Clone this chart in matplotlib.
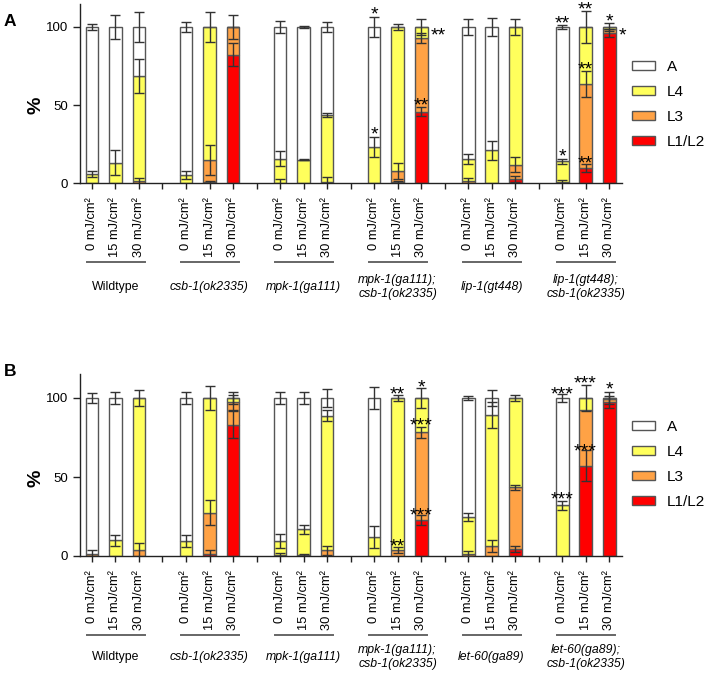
import matplotlib
matplotlib.use('Agg')
import matplotlib.pyplot as plt
from matplotlib.patches import Patch
from matplotlib.transforms import blended_transform_factory

plt.rcParams['font.family'] = ['Liberation Sans', 'DejaVu Sans']

# ---------------- data ----------------
doses = ["0 mJ/cm²", "15 mJ/cm²", "30 mJ/cm²"]
stages = ["A", "L4", "L3", "L1/L2"]

groups_A = ["Wildtype", "csb-1(ok2335)", "mpk-1(ga111)",
            "mpk-1(ga111);\ncsb-1(ok2335)", "lip-1(gt448)",
            "lip-1(gt448);\ncsb-1(ok2335)"]
groups_B = ["Wildtype", "csb-1(ok2335)", "mpk-1(ga111)",
            "mpk-1(ga111);\ncsb-1(ok2335)", "let-60(ga89)",
            "let-60(ga89);\ncsb-1(ok2335)"]

# Panel A: percentages of each stage per bar (6 groups x 3 doses)
A_L12 = [0, 0, 0, 0, 0.5, 82.3, 0.3, 0, 0, 0, 0.5, 45.7, 0, 0, 2.6, 0, 9.6, 96]
A_L3 = [0, 0, 1.5, 0, 14.5, 17.7, 0, 0, 0.6, 0, 7.2, 47.3, 1, 0, 9.2, 0.6, 53.9, 2.7]
A_L4 = [6, 13, 67.1, 5, 85, 0, 15.1, 15, 43, 23.3, 92.3, 7, 14.4, 21, 88.2, 13.4, 36.5, 1.3]
A_err_A = [1.7, 8, 9.4, 3, 0, 0, 3.8, 0.5, 3.2, 6.4, 0, 0, 5, 5.6, 5, 1.3, 0, 0]
A_err_L4 = [2, 8, 10.7, 2.5, 9.6, 0, 4.8, 0.5, 1, 6.4, 2, 5, 3.4, 6, 5, 1.7, 10, 2.7]
A_err_L3 = [0, 0, 2, 0, 9.6, 7.7, 0, 0, 3, 0, 5, 3.2, 2, 0, 5, 1.5, 8.4, 0]
A_err_L12 = [0, 0, 0, 0, 1, 7.5, 2, 0, 0, 0, 1, 3, 0, 0, 2, 0, 2.5, 2.7]

# Panel B
B_L12 = [0, 0, 0, 0, 1.5, 83, 0.4, 0, 0, 0, 0, 22.7, 0, 0, 4.4, 0, 57, 97.5]
B_L3 = [1.5, 0, 4, 0, 26, 14.2, 0, 0.5, 3.6, 0, 3.6, 55.7, 1.5, 6.6, 39, 0, 35.6, 2.1]
B_L4 = [0, 10, 96, 9.3, 72.5, 2.8, 9.3, 16.5, 85.2, 11.9, 96.4, 21.6, 22.9, 82.6, 56.6, 32, 7.4, 0.4]
B_err_A = [3.4, 3.6, 0, 3.7, 0, 0, 3.6, 3.6, 5.7, 6.9, 0, 0, 1.3, 5, 0, 2.5, 0, 0]
B_err_L4 = [0, 3.4, 5, 3.7, 7.8, 4, 4.5, 2.8, 3.4, 6.9, 2, 6.4, 2.5, 8.5, 1.6, 3, 8, 3.5]
B_err_L3 = [2.3, 0, 4.5, 0, 8.1, 5, 0, 1, 3, 0, 2, 3.4, 1.5, 3.8, 1.4, 0, 0, 0]
B_err_L12 = [0, 0, 0, 0, 2, 8.5, 1.5, 0, 0, 0, 0, 3.2, 0, 0, 2, 0, 9.8, 4]

# significance marks: (bar index, y value, text, dx)
A_stars = [(9, 110, "*", 0), (9, 33, "*", 0), (11, 96.6, "**", 0.72), (11, 52, "**", 0),
           (15, 104.7, "**", 0), (15, 19, "*", 0), (16, 113.7, "**", 0),
           (16, 74.8, "**", 0), (16, 14.5, "**", 0), (17, 106, "*", 0), (17, 97, "*", 0.55)]
B_stars = [(10, 104.2, "**", 0), (10, 8.5, "**", 0), (11, 109, "*", 0),
           (11, 84.7, "***", 0), (11, 28, "***", 0), (15, 104.7, "***", 0),
           (15, 38, "***", 0), (16, 111.6, "***", 0), (16, 68.4, "***", 0),
           (17, 107.8, "*", 0)]

colors = {"A": "#FFFFFF", "L4": "#FFFF5C", "L3": "#FFA245", "L1/L2": "#FF0000"}
edge = "#555555"
ecol = "#333333"

W, H = 708, 674
fig = plt.figure(figsize=(W / 100, H / 100), dpi=100)


def positions():
    return [g * 4 + i for g in range(6) for i in range(3)]


def draw(ax, l12, l3, l4, eA, e4, e3, e12, groups, stars, ax_h_px, label_off):
    x = positions()
    a = [100 - (p + q + r) for p, q, r in zip(l12, l3, l4)]
    bottom = [0] * 18
    segs = [("L1/L2", l12, e12), ("L3", l3, e3), ("L4", l4, e4), ("A", a, eA)]
    for name, vals, errs in segs:
        ax.bar(x, vals, bottom=bottom, width=0.55, color=colors[name],
               edgecolor=edge, linewidth=1, zorder=2)
        tops = [b + v for b, v in zip(bottom, vals)]
        for xi, t, v, e in zip(x, tops, vals, errs):
            if v > 0 and e > 0:
                ax.errorbar(xi, t, yerr=e, fmt='none', ecolor=ecol,
                            elinewidth=1, capsize=3.5, capthick=1, zorder=3)
        bottom = tops

    ax.set_xlim(-0.51, 22.55)
    ax.set_ylim(0, 115)
    ax.set_yticks([0, 50, 100])
    ax.tick_params(axis='y', labelsize=9.5, length=5, width=1, color='#222')
    all_ticks = list(range(23))
    ax.set_xticks(all_ticks)
    labels = []
    for t in all_ticks:
        labels.append(doses[t % 4] if t % 4 < 3 else "")
    ax.set_xticklabels(labels, rotation=90, fontsize=9.3)
    ax.tick_params(axis='x', length=4, width=1, color='#222', pad=6)
    for s in ['top', 'right']:
        ax.spines[s].set_visible(False)
    for s in ['left', 'bottom']:
        ax.spines[s].set_color('#222')
        ax.spines[s].set_linewidth(1)

    tr = blended_transform_factory(ax.transData, ax.transAxes)
    yl = -79 / ax_h_px
    yt = -label_off / ax_h_px
    for g, name in enumerate(groups):
        ax.plot([g * 4 - 0.22, g * 4 + 2.26], [yl, yl], transform=tr,
                clip_on=False, color='#666666', lw=1.4)
        style = 'normal' if name == "Wildtype" else 'italic'
        ax.text(g * 4 + 1, yt, name, transform=tr, ha='center', va='center',
                fontsize=8.8, style=style, linespacing=1.3)

    for idx, yv, txt, dx in stars:
        ax.text(x[idx] + dx, yv - 2.5, txt, ha='center', va='center',
                fontsize=14, color='black', zorder=5)


axA = fig.add_axes([80 / W, 1 - 183 / H, 542 / W, 179.4 / H])
draw(axA, A_L12, A_L3, A_L4, A_err_A, A_err_L4, A_err_L3, A_err_L12,
     groups_A, A_stars, 179.4, 104)
axB = fig.add_axes([80 / W, 1 - 556 / H, 542 / W, 181.7 / H])
draw(axB, B_L12, B_L3, B_L4, B_err_A, B_err_L4, B_err_L3, B_err_L12,
     groups_B, B_stars, 181.7, 101)

for yc in (105, 478):
    fig.text(36 / W, 1 - yc / H, "%", fontsize=14, fontweight='bold',
             rotation=90, ha='center', va='center')

fig.text(4 / W, 1 - 22 / H, "A", fontsize=12.5, fontweight='bold', va='center', ha='left')
fig.text(4 / W, 1 - 372 / H, "B", fontsize=12.5, fontweight='bold', va='center', ha='left')

handles = [Patch(facecolor=colors[s], edgecolor=edge, linewidth=1) for s in stages]
for top in (60, 420):
    fig.legend(handles, stages, loc='upper left',
               bbox_to_anchor=(632 / W, 1 - top / H), frameon=False,
               fontsize=11, handlelength=1.5, handleheight=0.5,
               handletextpad=0.8, labelspacing=0.72, borderpad=0,
               borderaxespad=0)

fig.savefig("out.png", dpi=100)
